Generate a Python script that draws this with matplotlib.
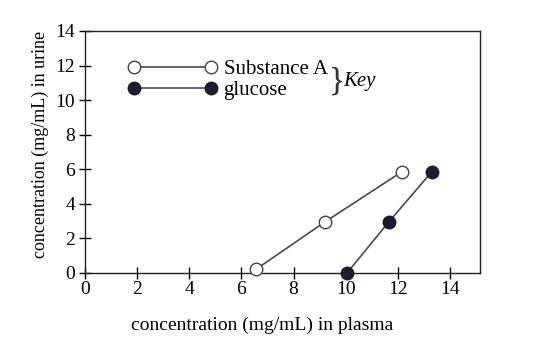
import matplotlib
matplotlib.use("Agg")
import matplotlib.pyplot as plt

# values
sub_a_plasma = [6.55, 9.2, 12.15]
sub_a_urine = [0.2, 2.95, 5.85]
glu_plasma = [10.05, 11.65, 13.3]
glu_urine = [0.0, 2.95, 5.85]
xticks = [0, 2, 4, 6, 8, 10, 12, 14]
yticks = [0, 2, 4, 6, 8, 10, 12, 14]

plt.rcParams['font.family'] = ['Liberation Serif', 'DejaVu Serif']
plt.rcParams['font.size'] = 13

fig = plt.figure(figsize=(5.52, 3.54), dpi=100)
ax = fig.add_axes([0.154, 0.229, 0.7156, 0.6836])

line_col = '#4a4a4a'
dark = '#1c1c30'
ax.plot(sub_a_plasma, sub_a_urine, color=line_col, lw=1.2, marker='o', ms=9,
        mfc='white', mec='#444444', mew=1.0, label='Substance A', clip_on=False, zorder=3)
ax.plot(glu_plasma, glu_urine, color=line_col, lw=1.2, marker='o', ms=9,
        mfc=dark, mec=dark, label='glucose', clip_on=False, zorder=3)

ax.set_xlim(0, 15.15)
ax.set_ylim(0, 14)
ax.set_xticks(xticks)
ax.set_yticks(yticks)
ax.tick_params(direction='inout', length=8, width=1, colors='black', labelsize=14)
ax.tick_params(axis='x', pad=2)
ax.tick_params(axis='y', pad=3)
for s in ax.spines.values():
    s.set_linewidth(1.0)
    s.set_color('#222222')

ax.set_xlabel('concentration (mg/mL) in plasma', fontsize=14)
ax.xaxis.set_label_coords(0.448, -0.18)
ax.set_ylabel('concentration (mg/mL) in urine', fontsize=13)
ax.yaxis.set_label_coords(-0.092, 0.533)

leg = ax.legend(loc='upper left', bbox_to_anchor=(0.108, 0.882), frameon=False,
                numpoints=2, handlelength=4.3, handletextpad=0.3,
                labelspacing=0.08, borderpad=0, borderaxespad=0, fontsize=15)

# brace + "Key" beside the legend
ax.text(0.637, 0.793, '}', transform=ax.transAxes, fontsize=24, ha='center',
        va='center', color='#333333', fontweight='light')
ax.text(0.655, 0.79, 'Key', transform=ax.transAxes, fontsize=15, style='italic',
        ha='left', va='center')

fig.savefig('out.png', dpi=100)
